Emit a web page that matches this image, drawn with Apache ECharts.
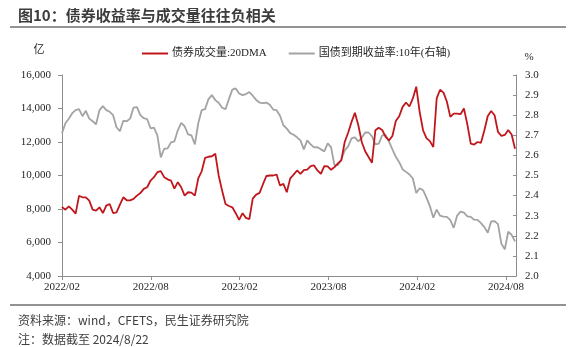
<!DOCTYPE html>
<html><head><meta charset="utf-8">
<script src="https://cdn.jsdelivr.net/npm/echarts@6/dist/echarts.min.js"></script>
<style>html,body{margin:0;padding:0;background:#fff}#c{width:574px;height:347px}</style>
</head><body><div id="c"></div>
<script>
// ---- data ----
const startDate = '2022-02-01';
const endDate = '2024-08-22';
const xTickLabels = ['2022/02','2022/08','2023/02','2023/08','2024/02','2024/08'];
const leftTicks = [4000, 16000, 2000];
const rightTicks = [2.0, 3.0, 0.1];
const seriesNames = ['债券成交量:20DMA', '国债到期收益率:10年(右轴)'];
// 债券成交量 20DMA (亿), weekly readings
const volume = [
 8120, 7960, 8160, 7960, 7720, 8780, 8700, 8700, 8500, 7960,
 7900, 8100, 7760, 8200, 8300, 7760, 7800, 8260, 8700, 8520,
 8520, 8600, 8800, 8950, 9200, 9300, 9700, 9900, 10200, 10260,
 9900, 9770, 9700, 9220, 9600, 9300, 8800, 9000, 8980, 8800,
 9830, 10250, 11050, 11120, 11150, 11300, 10000, 9100, 8300, 8180,
 8100, 7750, 7350, 7750, 7470, 7400, 8620, 8860, 8960, 9480,
 9970, 10000, 10000, 10060, 9400, 9500, 9000, 9830, 10050, 10300,
 10100, 10320, 10350, 10560, 10600, 10300, 10100, 10560, 10550, 10340,
 10500, 10720, 10900, 12000, 12550, 13200, 13750, 13000, 12000, 11450,
 11100, 10760, 12700, 12850, 12720, 12300, 12100, 12360, 13250, 13540,
 14100, 14360, 14120, 14600, 15300, 13800, 12700, 12230, 12050, 11700,
 14600, 15120, 14950, 14400, 13500, 13700, 13700, 13660, 14000, 13050,
 11900, 11850, 12000, 11950, 12700, 13550, 13850, 13600, 12600, 12360,
 12420, 12720, 12450, 11600
];
// 国债到期收益率 10年 (%), weekly readings
const yield10y = [
 2.710, 2.760, 2.782, 2.810, 2.825, 2.830, 2.795, 2.822, 2.783, 2.770,
 2.755, 2.825, 2.845, 2.825, 2.817, 2.800, 2.740, 2.720, 2.772, 2.770,
 2.783, 2.838, 2.840, 2.800, 2.785, 2.780, 2.735, 2.738, 2.700, 2.590,
 2.633, 2.635, 2.665, 2.670, 2.725, 2.762, 2.745, 2.705, 2.700, 2.655,
 2.760, 2.825, 2.830, 2.880, 2.900, 2.875, 2.862, 2.837, 2.830, 2.880,
 2.927, 2.933, 2.908, 2.900, 2.905, 2.915, 2.897, 2.876, 2.863, 2.860,
 2.863, 2.852, 2.828, 2.825, 2.797, 2.750, 2.733, 2.711, 2.703, 2.690,
 2.675, 2.630, 2.675, 2.655, 2.640, 2.641, 2.630, 2.620, 2.660, 2.640,
 2.550, 2.552, 2.580, 2.625, 2.645, 2.685, 2.690, 2.670, 2.688, 2.714,
 2.714, 2.695, 2.655, 2.659, 2.700, 2.702, 2.668, 2.630, 2.593, 2.566,
 2.530, 2.518, 2.505, 2.485, 2.413, 2.437, 2.427, 2.390, 2.348, 2.290,
 2.330, 2.300, 2.295, 2.294, 2.278, 2.240, 2.300, 2.320, 2.315, 2.297,
 2.294, 2.280, 2.279, 2.263, 2.243, 2.215, 2.272, 2.273, 2.258, 2.160,
 2.133, 2.220, 2.205, 2.172
];
// weekly dates from startDate
const DAY = 86400000;
const t0 = Date.parse(startDate + 'T00:00:00Z');
const tEnd = Date.parse(endDate + 'T00:00:00Z');
const dates = [];
for (let t = t0; t <= tEnd && dates.length < volume.length; t += 7 * DAY) {
  dates.push(new Date(t).toISOString().slice(0, 10));
}
const dayOf = s => Math.round((Date.parse(s + 'T00:00:00Z') - t0) / DAY);
const maxDay = dayOf(endDate);
const halfYear = 182.5;

const serif = "'Liberation Serif', 'Times New Roman', 'Noto Sans CJK SC', serif";
const sans = "'Noto Sans CJK SC', 'Noto Sans', sans-serif";
const axisGray = '#8c8c8c';
const red = '#C0171C';
const gray = '#A3A3A3';

const chart = echarts.init(document.getElementById('c'), null, {renderer: 'canvas'});
chart.setOption({
  animation: false,
  backgroundColor: '#fff',
  grid: {left: 62, right: 58, top: 75, bottom: 71},
  legend: {
    left: 137, top: 43, itemGap: 22, itemWidth: 26, itemHeight: 2,
    icon: 'rect',
    textStyle: {fontFamily: serif, fontSize: 11, color: '#262626', padding: [0, 0, 0, -1]},
    data: seriesNames
  },
  xAxis: {
    type: 'value', min: 0, max: maxDay, interval: halfYear,
    splitLine: {show: false},
    axisLine: {lineStyle: {color: axisGray, width: 1}},
    axisTick: {show: true, length: 4, inside: false, lineStyle: {color: axisGray}},
    axisLabel: {
      fontFamily: serif, fontSize: 11, color: '#262626', margin: 6,
      showMaxLabel: false,
      formatter: v => {
        const k = Math.round(v / halfYear);
        return Math.abs(v - k * halfYear) < 1 && xTickLabels[k] ? xTickLabels[k] : '';
      }
    }
  },
  yAxis: [{
    type: 'value', min: leftTicks[0], max: leftTicks[1], interval: leftTicks[2],
    splitLine: {show: false},
    axisLine: {show: true, lineStyle: {color: axisGray}},
    axisTick: {show: true, length: 4, lineStyle: {color: axisGray}},
    axisLabel: {fontFamily: serif, fontSize: 11, color: '#262626', margin: 11,
      formatter: v => v.toLocaleString('en-US')}
  }, {
    type: 'value', min: rightTicks[0], max: rightTicks[1], interval: rightTicks[2],
    position: 'right',
    splitLine: {show: false},
    axisLine: {show: true, lineStyle: {color: axisGray}},
    axisTick: {show: true, length: 3, inside: true, lineStyle: {color: axisGray}},
    axisLabel: {fontFamily: serif, fontSize: 11, color: '#262626', margin: 9,
      formatter: v => v.toFixed(1)}
  }],
  series: [{
    name: seriesNames[0], type: 'line', yAxisIndex: 0, symbol: 'none', z: 3,
    lineStyle: {color: red, width: 1.8}, itemStyle: {color: red},
    data: dates.map((d, i) => [dayOf(d), volume[i]])
  }, {
    name: seriesNames[1], type: 'line', yAxisIndex: 1, symbol: 'none', z: 2,
    lineStyle: {color: gray, width: 1.8}, itemStyle: {color: gray},
    data: dates.map((d, i) => [dayOf(d), yield10y[i]])
  }],
  graphic: [
    {type: 'text', left: 18, top: 8, style: {text: '图10：债券收益率与成交量往往负相关', font: 'bold 15px ' + sans, fill: '#3c3c3c'}},
    {type: 'line', shape: {x1: 10, y1: 27, x2: 566, y2: 27}, style: {stroke: '#6f6f6f', lineWidth: 1.5}},
    {type: 'text', x: 39, y: 50, style: {text: '亿', font: '11px ' + serif, fill: '#262626', align: 'center', verticalAlign: 'middle'}},
    {type: 'text', x: 529, y: 57, style: {text: '%', font: '11px ' + serif, fill: '#262626', align: 'center', verticalAlign: 'middle'}},
    {type: 'line', shape: {x1: 10, y1: 305, x2: 566, y2: 305}, style: {stroke: '#6f6f6f', lineWidth: 1.5}},
    {type: 'text', x: 18, y: 320, style: {text: '资料来源：wind，CFETS，民生证券研究院', font: '12px ' + sans, fill: '#404040', verticalAlign: 'middle'}},
    {type: 'text', x: 18, y: 339, style: {text: '注：数据截至 2024/8/22', font: '12px ' + sans, fill: '#404040', verticalAlign: 'middle'}}
  ]
});
</script>
</body></html>
